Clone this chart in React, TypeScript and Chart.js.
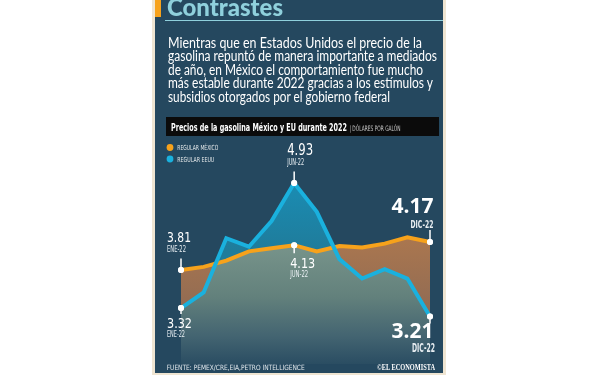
import React, { useEffect, useRef } from "react";
import { Chart, registerables } from "chart.js";

Chart.register(...registerables);

// ---------- data ----------
const months = ["ENE-22", "FEB-22", "MAR-22", "ABR-22", "MAY-22", "JUN-22", "JUL-22", "AGO-22", "SEP-22", "OCT-22", "NOV-22", "DIC-22"];
const mexico = [3.81, 3.85, 3.93, 4.05, 4.09, 4.13, 4.05, 4.12, 4.10, 4.15, 4.23, 4.17];
const eeuu = [3.32, 3.52, 4.22, 4.11, 4.44, 4.93, 4.56, 3.95, 3.70, 3.82, 3.70, 3.21];
const seriesNames = ["REGULAR MÉXICO", "REGULAR EEUU"];
const markedIdx = [0, 5, 11];
const yMin = 2.6;
const yMax = 5.1;

const headline = "Contrastes";
const bodyLines = [
  "Mientras que en Estados Unidos el precio de la",
  "gasolina repuntó de manera importante a mediados",
  "de año, en México el comportamiento fue mucho",
  "más estable durante 2022 gracias a los estímulos y",
  "subsidios otorgados por el gobierno federal",
];
const chartTitle = "Precios de la gasolina México y EU durante 2022";
const chartUnit = "| DÓLARES POR GALÓN";
const sourceText = "FUENTE: PEMEX/CRE,EIA,PETRO INTELLIGENCE";
const brandText = "©EL ECONOMISTA";

// ---------- styles ----------
const BG = "#25485f";
const BEIGE = "#efe5d2";
const ORANGE = "#f7a21b";
const BLUE = "#1ab1de";
const TEAL_TITLE = "#8fd0dc";
const NARROW = '"Liberation Sans Narrow", "DejaVu Sans Condensed", "Liberation Sans", sans-serif';
const BODYFONT = 'Lato, "Open Sans", sans-serif';

const bodyGeom = [
  { y: 47.5, w: 254 },
  { y: 61, w: 269 },
  { y: 74.5, w: 255 },
  { y: 88, w: 265 },
  { y: 101.5, w: 222 },
];

// callouts: dataset index (0 = EEUU, 1 = México), data index, offsets
const callouts = [
  { ds: 1, i: 0, t0: -11.5, t1: 0, nx: -14, ny: -28.3, na: "left", nf: `14.5px ${NARROW}`, nw: 24, mx: -14, my: -18, ma: "left", mf: `9px ${NARROW}`, mw: 19 },
  { ds: 0, i: 5, t0: -11.5, t1: 0, nx: -7, ny: -28, na: "left", nf: `15px ${NARROW}`, nw: 26, mx: -7, my: -18.5, ma: "left", mf: `9px ${NARROW}`, mw: 17 },
  { ds: 1, i: 5, t0: 0, t1: 8, nx: -4, ny: 22.7, na: "left", nf: `14.5px ${NARROW}`, nw: 25, mx: -4, my: 31.7, ma: "left", mf: `9px ${NARROW}`, mw: 18 },
  { ds: 1, i: 11, t0: -12, t1: 0, nx: 3.5, ny: -29.3, na: "right", nf: `bold 21px "Open Sans", sans-serif`, nw: 43, mx: 3.5, my: -13.7, ma: "right", mf: `bold 11px ${NARROW}`, mw: 23 },
  { ds: 0, i: 0, t0: 0, t1: 6, nx: -14, ny: 20.3, na: "left", nf: `14.5px ${NARROW}`, nw: 25, mx: -14, my: 28.7, ma: "left", mf: `9px ${NARROW}`, mw: 18 },
  { ds: 0, i: 11, t0: 0, t1: 7, nx: 3.5, ny: 21, na: "right", nf: `bold 22px "Open Sans", sans-serif`, nw: 42, mx: 5, my: 35, ma: "right", mf: `bold 12px ${NARROW}`, mw: 23 },
];

const calloutPlugin = {
  id: "callouts",
  afterDatasetsDraw(chart: any) {
    const ctx = chart.ctx;
    ctx.save();
    callouts.forEach((c) => {
      const meta = chart.getDatasetMeta(c.ds);
      const el = meta.data[c.i];
      if (!el) return;
      const px = el.x;
      const py = el.y;
      const value = chart.data.datasets[c.ds].data[c.i] as number;
      ctx.strokeStyle = "#ffffff";
      ctx.lineWidth = 1.5;
      ctx.beginPath();
      ctx.moveTo(px, py + c.t0);
      ctx.lineTo(px, py + c.t1);
      ctx.stroke();
      ctx.fillStyle = "#ffffff";
      ctx.beginPath();
      ctx.arc(px, py, 3, 0, Math.PI * 2);
      ctx.fill();
      ctx.textBaseline = "alphabetic";
      ctx.textAlign = c.na as CanvasTextAlign;
      ctx.font = c.nf;
      ctx.fillText(value.toFixed(2), px + c.nx, py + c.ny, c.nw);
      ctx.textAlign = c.ma as CanvasTextAlign;
      ctx.font = c.mf;
      ctx.fillStyle = "#e8eef2";
      ctx.fillText(months[c.i], px + c.mx, py + c.my, c.mw);
    });
    ctx.restore();
  },
};

export default function App() {
  const canvasRef = useRef<HTMLCanvasElement | null>(null);

  useEffect(() => {
    const canvas = canvasRef.current;
    if (!canvas) return;
    const ctx = canvas.getContext("2d") as CanvasRenderingContext2D;

    const gGray = ctx.createLinearGradient(0, 236, 0, 370);
    gGray.addColorStop(0, "#7b978d");
    gGray.addColorStop(0.45, "#63817c");
    gGray.addColorStop(0.75, "#436471");
    gGray.addColorStop(1, BG);

    const gBrown = ctx.createLinearGradient(0, 236, 0, 330);
    gBrown.addColorStop(0, "#ab774f");
    gBrown.addColorStop(1, "#8a6854");

    const gTeal = ctx.createLinearGradient(0, 180, 0, 250);
    gTeal.addColorStop(0, "#1a8db4");
    gTeal.addColorStop(1, "#1f7c9b");

    const pointR = (c: any) => (markedIdx.includes(c.dataIndex) ? 3 : 0);

    const chart = new Chart(canvas, {
      type: "line",
      data: {
        labels: months,
        datasets: [
          {
            label: seriesNames[1],
            data: eeuu,
            borderColor: BLUE,
            borderWidth: 4,
            tension: 0,
            pointRadius: pointR,
            pointBackgroundColor: "#ffffff",
            pointBorderWidth: 0,
            clip: false as any,
            fill: { target: 1, above: gTeal, below: gBrown } as any,
          },
          {
            label: seriesNames[0],
            data: mexico,
            borderColor: ORANGE,
            borderWidth: 4,
            tension: 0,
            pointRadius: pointR,
            pointBackgroundColor: "#ffffff",
            pointBorderWidth: 0,
            clip: false as any,
            backgroundColor: gGray,
            fill: "start",
          },
        ],
      },
      options: {
        animation: false,
        responsive: false,
        devicePixelRatio: 1,
        layout: { padding: { left: 181, right: 170, top: 169.9, bottom: 11.1 } },
        scales: {
          x: { display: false, offset: false },
          y: { display: false, min: yMin, max: yMax },
        },
        plugins: {
          legend: { display: false },
          tooltip: { enabled: false },
          filler: { propagate: false, drawTime: "beforeDatasetsDraw" } as any,
        },
        events: [],
      },
      plugins: [calloutPlugin],
    });
    return () => chart.destroy();
  }, []);

  return (
    <div style={{ position: "fixed", left: 0, top: 0, width: 600, height: 375, background: "#ffffff", overflow: "hidden" }}>
      <div style={{ position: "absolute", left: 152, top: 0, width: 294, height: 375, background: BEIGE }} />
      <div style={{ position: "absolute", left: 155, top: 0, width: 288, height: 373, background: BG }} />
      <canvas
        ref={canvasRef}
        width={600}
        height={375}
        style={{ position: "absolute", left: 0, top: 0, width: 600, height: 375, display: "block" }}
      />
      <svg width={600} height={375} style={{ position: "absolute", left: 0, top: 0, pointerEvents: "none" }}>
        <rect x={155} y={0} width={6} height={17} fill={ORANGE} />
        <text x={167} y={15.5} fontFamily={BODYFONT} fontWeight={900} fontSize={25} fill={TEAL_TITLE} textLength={116} lengthAdjust="spacingAndGlyphs">
          {headline}
        </text>
        <line x1={165} y1={20.5} x2={443} y2={20.5} stroke={TEAL_TITLE} strokeWidth={1} />
        {bodyLines.map((t, k) => (
          <text key={k} x={168} y={bodyGeom[k].y} fontFamily={BODYFONT} fontSize={14.5} fill="#ffffff" textLength={bodyGeom[k].w} lengthAdjust="spacingAndGlyphs">
            {t}
          </text>
        ))}
        <rect x={166} y={117} width={273} height={19} fill="#0b0b0b" />
        <text x={171} y={130.7} fontFamily={NARROW} fontWeight="bold" fontSize={10.5} fill="#ffffff" textLength={176} lengthAdjust="spacingAndGlyphs">
          {chartTitle}
        </text>
        <text x={349.5} y={130.5} fontFamily={NARROW} fontSize={7.5} fill="#c9c9c9" textLength={51} lengthAdjust="spacingAndGlyphs">
          {chartUnit}
        </text>
        <circle cx={170} cy={147.5} r={3.4} fill={ORANGE} />
        <text x={177.3} y={150.3} fontFamily={NARROW} fontSize={7} fill="#e4e8ea" textLength={41} lengthAdjust="spacingAndGlyphs">
          {seriesNames[0]}
        </text>
        <circle cx={170} cy={159} r={3.4} fill={BLUE} />
        <text x={177.3} y={161.7} fontFamily={NARROW} fontSize={7} fill="#e4e8ea" textLength={37} lengthAdjust="spacingAndGlyphs">
          {seriesNames[1]}
        </text>
        <text x={166.7} y={370} fontFamily={NARROW} fontSize={7.2} fill="#e2e8ec" textLength={138} lengthAdjust="spacingAndGlyphs">
          {sourceText}
        </text>
        <text x={377} y={370} fontFamily='"Liberation Serif", serif' fontWeight="bold" fontSize={7.5} fill="#ffffff" textLength={58} lengthAdjust="spacingAndGlyphs">
          {brandText}
        </text>
      </svg>
    </div>
  );
}
